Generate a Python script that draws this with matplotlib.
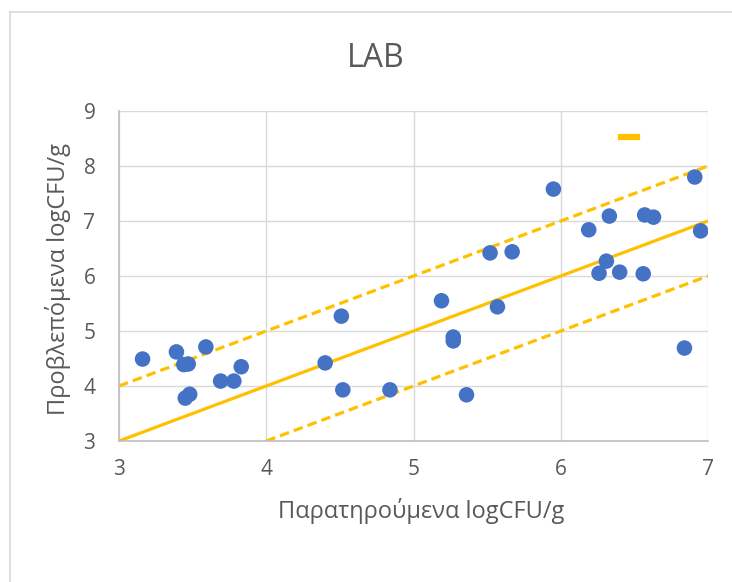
import matplotlib
matplotlib.use("Agg")
import matplotlib.pyplot as plt
from matplotlib.lines import Line2D

plt.rcParams['font.family'] = ['Open Sans', 'DejaVu Sans']

# observed vs predicted LAB counts (logCFU/g)
observed = [3.16, 3.39, 3.44, 3.47, 3.59, 3.69, 3.78, 3.83, 3.45, 3.48,
            4.40, 4.51, 4.52, 4.84, 5.19, 5.27, 5.27, 5.36, 5.57, 5.52,
            5.67, 5.95, 6.19, 6.33, 6.57, 6.63, 6.91, 6.95, 6.31, 6.26,
            6.40, 6.56, 6.84]
predicted = [4.49, 4.62, 4.39, 4.40, 4.71, 4.09, 4.09, 4.35, 3.78, 3.85,
             4.42, 5.27, 3.93, 3.93, 5.55, 4.89, 4.82, 3.84, 5.44, 6.42,
             6.44, 7.58, 6.84, 7.09, 7.11, 7.07, 7.80, 6.82, 6.27, 6.05,
             6.07, 6.04, 4.69]

# y = x and the +/- 1 log bands
line_x = [3, 7]
line_y = [3, 7]
upper_x = [3, 7]
upper_y = [4, 8]
lower_x = [4, 7]
lower_y = [3, 6]

blue = '#4472C4'
gold = '#FFC000'
grey_txt = '#595959'

W, H = 732, 582
fig = plt.figure(figsize=(W / 100, H / 100), dpi=100)
ax = fig.add_axes([119 / W, 1 - 441 / H, 589 / W, 330 / H])

ax.plot(line_x, line_y, color=gold, lw=2.3, solid_capstyle='butt', zorder=2)
ax.plot(upper_x, upper_y, color=gold, lw=2.3, ls=(0, (3, 1.6)), zorder=2)
ax.plot(lower_x, lower_y, color=gold, lw=2.3, ls=(0, (3, 1.6)), zorder=2)
ax.scatter(observed, predicted, s=125, color=blue, edgecolors='none', zorder=3)

ax.set_xlim(3, 7)
ax.set_ylim(3, 9)
ax.set_xticks([3, 4, 5, 6, 7])
ax.set_yticks([3, 4, 5, 6, 7, 8, 9])
ax.grid(True, color='#d9d9d9', lw=1)
ax.set_axisbelow(True)
for side in ['top', 'right']:
    ax.spines[side].set_visible(False)
for side in ['left', 'bottom']:
    ax.spines[side].set_color('#bfbfbf')
    ax.spines[side].set_linewidth(1.2)
ax.tick_params(axis='x', length=0, labelsize=15, labelcolor=grey_txt, pad=13)
ax.tick_params(axis='y', length=0, labelsize=15, labelcolor=grey_txt, pad=17)

# axis titles and chart title
fig.text(421 / W, 1 - 518 / H, 'Παρατηρούμενα logCFU/g', ha='center', va='baseline',
         fontsize=17, color=grey_txt)
fig.text(65 / W, 1 - 279 / H, 'Προβλεπόμενα logCFU/g', ha='center', va='baseline',
         rotation=90, rotation_mode='anchor', fontsize=17, color=grey_txt)
fig.text(376 / W, 1 - 67 / H, 'LAB', ha='center', va='baseline',
         fontsize=23, color=grey_txt)

# unnamed legend entry
ax.legend([Line2D([0], [0], color=gold, lw=4.5)], [''], loc='center',
          bbox_to_anchor=(629 / W, 1 - 138 / H), bbox_transform=fig.transFigure,
          frameon=False, handlelength=1.2, handletextpad=0)

# chart area border
fig.add_artist(Line2D([9.5 / W, 9.5 / W], [0, 1 - 11.5 / H], color='#d9d9d9',
                      lw=1.2, transform=fig.transFigure))
fig.add_artist(Line2D([9.5 / W, 1], [1 - 11.5 / H, 1 - 11.5 / H], color='#d9d9d9',
                      lw=1.2, transform=fig.transFigure))

fig.savefig('out.png', dpi=100)
